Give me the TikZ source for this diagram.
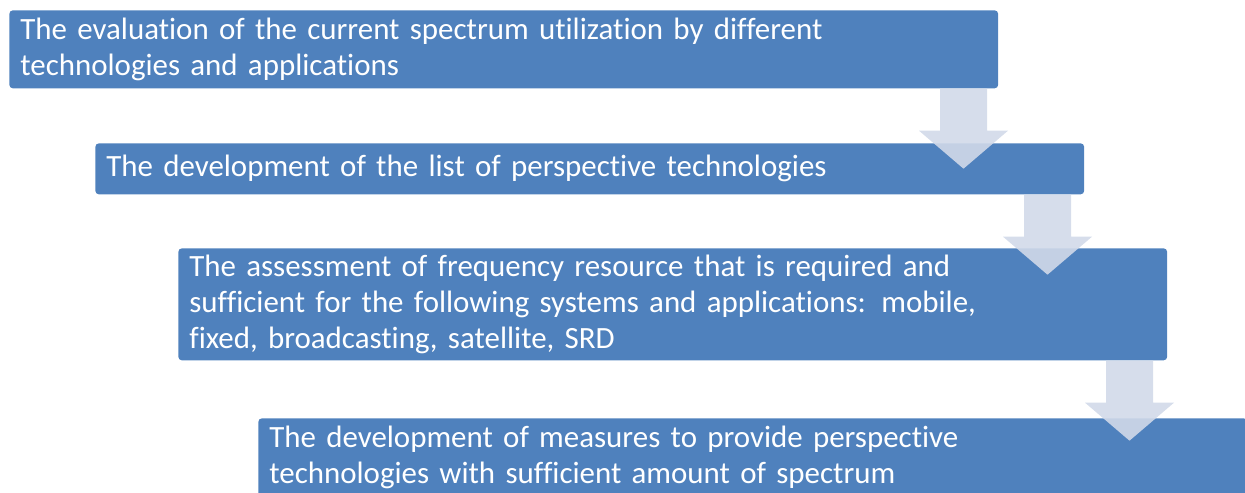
\documentclass[tikz,border=0pt]{standalone}
\usepackage{fontspec}
\setmainfont{Carlito}[Ligatures=NoCommon]
\usetikzlibrary{calc}

\definecolor{stepblue}{RGB}{79,129,189}
\definecolor{arrowgrey}{RGB}{209,217,233}

\tikzset{
	stepbox/.style={fill=stepblue, rounded corners=2pt, text=white, anchor=north west,
		minimum width=19.78cm, text width=19.34cm, inner xsep=0.22cm, inner ysep=0pt,
		align=left, font=\fontsize{17.6}{20.5}\selectfont},
	flowarrow/.style={fill=arrowgrey, fill opacity=0.9}
}

% block arrow pointing down, its top centre at #1
\newcommand\flowdown[1]{
	\fill[flowarrow] ($(#1)+(-23.5,0)$) -- ++(0,42) -- ++(-21,0) -- ++(44.5,38)
	-- ++(44.5,-38) -- ++(-21,0) -- ++(0,-42) -- cycle;
}

\begin{document}
\begin{tikzpicture}[x=0.02cm, y=-0.02cm]
	\useasboundingbox (0,0) rectangle (1245,493);
	\clip (0,0) rectangle (1245,493);
	
	\node[stepbox, minimum height=1.56cm] (step1) at (9,10)
	{The evaluation of the current spectrum utilization by different\\technologies and applications};
	\node[stepbox, minimum height=1.02cm] (step2) at (95,143)
	{The development of the list of perspective technologies};
	\node[stepbox, minimum height=2.24cm] (step3) at (178,248)
	{The assessment of frequency resource that is required and\\sufficient for the following systems and applications: mobile,\\fixed, broadcasting, satellite, SRD};
	\node[stepbox, minimum height=1.56cm] (step4) at (258,418)
	{The development of measures to provide perspective\\technologies with sufficient amount of spectrum};
	
	\coordinate (a1) at ($(step1.south east)+(-35,0)$);
	\coordinate (a2) at ($(step2.south east)+(-37,0)$);
	\coordinate (a3) at ($(step3.south east)+(-38,0)$);
	\flowdown{a1}
	\flowdown{a2}
	\flowdown{a3}
\end{tikzpicture}
\end{document}
